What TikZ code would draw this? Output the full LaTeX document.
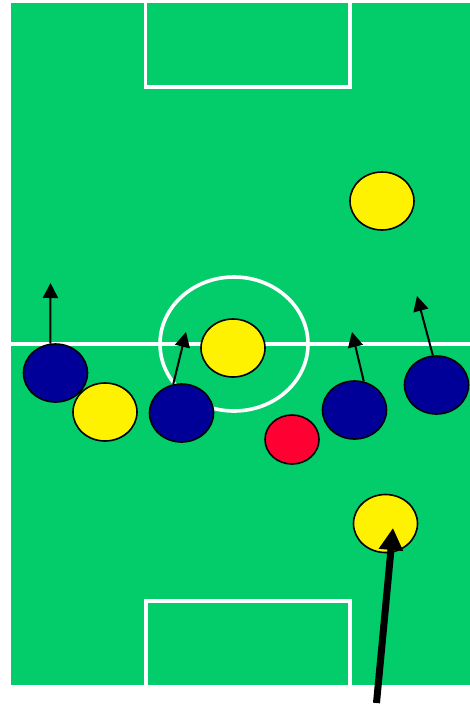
\documentclass[tikz,border=0pt]{standalone}
\usepackage{tikz}
\usetikzlibrary{arrows.meta,shapes.geometric}
\definecolor{pitch}{RGB}{3,204,106}
\definecolor{navy}{RGB}{0,0,153}
\definecolor{ballred}{RGB}{255,0,51}

\begin{document}
\begin{tikzpicture}[x=1pt,y=-1pt,>={Triangle[width=15pt,length=15pt]},
    player/.style={ellipse,draw=black,line width=1.6pt,inner sep=0pt,
      minimum width=64pt,minimum height=58pt},
    blue/.style={player,fill=navy},
    yellow/.style={player,fill=yellow},
    ball/.style={player,fill=ballred,minimum width=54pt,minimum height=49pt},
    run/.style={->,line width=2pt},
    line/.style={white,line width=3.6pt}]
      \useasboundingbox (0,0) rectangle (470,705);
      \fill[pitch] (11,3) rectangle (470,685);
      % pitch markings
      \draw[line] (145.5,3) -- (145.5,87) -- (350,87) -- (350,3);
      \draw[line] (146,685) -- (146,601) -- (350,601) -- (350,685);
      \draw[line] (11,344) -- (470,344);
      \draw[line] (234,344) ellipse (74 and 67);
      % players
      \node[blue] (b1) at (55.5,373) {};
      \node[yellow] (y1) at (105,412) {};
      \node[blue] (b2) at (181.5,413) {};
      \node[yellow] (y2) at (233,348) {};
      \node[ball] (r1) at (292,439.5) {};
      \node[blue] (b3) at (354.5,410) {};
      \node[blue] (b4) at (436.5,385) {};
      \node[yellow] (y3) at (382,201) {};
      \node[yellow] (y4) at (385.5,523.5) {};
      % runs
      \coordinate (t1) at (50.5,283);
      \coordinate (t2) at (186,332);
      \coordinate (t3) at (352,332);
      \coordinate (t4) at (417,296);
      \draw[run] (b1.100) -- (t1);
      \draw[run] (b2.106) -- (t2);
      \draw[run] (b3.72) -- (t3);
      \draw[run] (b4.97) -- (t4);
      \coordinate (s5) at (376.5,703);
      \coordinate (t5) at (393,528);
      \draw[line width=7pt,-{Triangle[width=23pt,length=22pt]}] (s5) -- (t5);
    \end{tikzpicture}
\end{document}
